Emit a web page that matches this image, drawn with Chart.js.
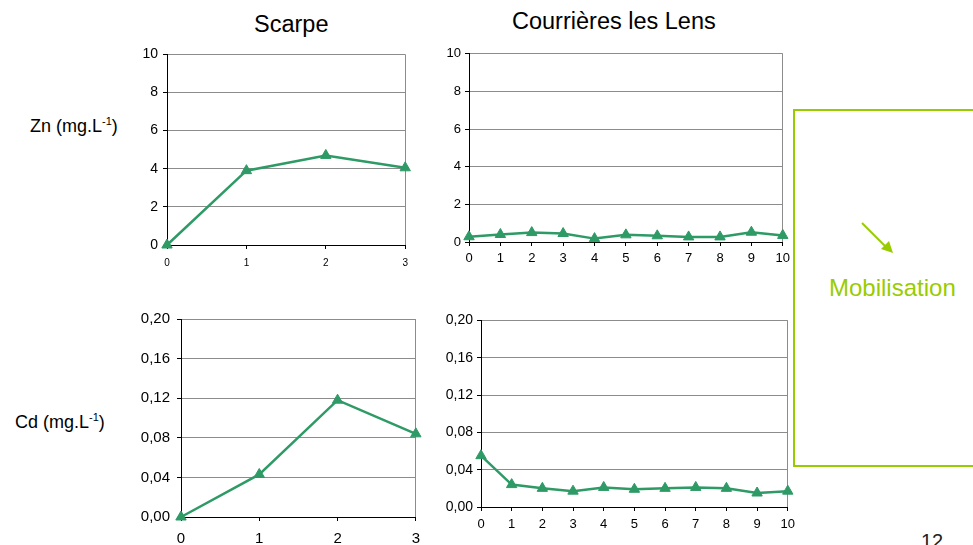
<!DOCTYPE html>
<html>
<head>
<meta charset="utf-8">
<script src="https://cdn.jsdelivr.net/npm/chart.js@4.4.0/dist/chart.umd.min.js"></script>
<style>
  html, body { margin: 0; padding: 0; background: #fff; }
  body { width: 973px; height: 545px; position: relative; overflow: hidden; font-family: Arial, "Liberation Sans", sans-serif; color: #000; }
  canvas { position: absolute; }
  .lbl { position: absolute; white-space: nowrap; }
  .lbl sup { font-size: 11px; vertical-align: 7px; line-height: 0; }
  #box { position: absolute; left: 793px; top: 109px; width: 200px; height: 354px; border: 2px solid #99cc00; }
</style>
</head>
<body>
<div class="lbl" style="left:254px;top:11px;font-size:23.5px;">Scarpe</div>
<div class="lbl" style="left:512px;top:8px;font-size:23.5px;">Courrières les Lens</div>
<div class="lbl" style="left:30px;top:116px;font-size:18px;">Zn (mg.L<sup>-1</sup>)</div>
<div class="lbl" style="left:15px;top:412px;font-size:18px;">Cd (mg.L<sup>-1</sup>)</div>
<div id="box"></div>
<svg style="position:absolute;left:0;top:0" width="973" height="545">
  <line x1="862" y1="223" x2="886" y2="247" stroke="#99cc00" stroke-width="2"/>
  <polygon points="893,253 881,249 889,241" fill="#99cc00"/>
</svg>
<div class="lbl" style="left:829px;top:274px;font-size:24px;color:#99cc00;">Mobilisation</div>
<div class="lbl" style="left:921px;top:530px;font-size:20px;color:#222;">12</div>

<canvas id="znScarpe" width="289" height="234" style="left:127px;top:41px"></canvas>
<canvas id="znLens" width="361" height="228" style="left:434px;top:42px"></canvas>
<canvas id="cdScarpe" width="303" height="246" style="left:126px;top:303px"></canvas>
<canvas id="cdLens" width="365" height="227" style="left:436px;top:308px"></canvas>

<script>
const scarpeDays = ['0', '1', '2', '3']
const lensDays = ['0', '1', '2', '3', '4', '5', '6', '7', '8', '9', '10']

const znScarpe = [0, 3.9, 4.7, 4.05]
const znLens = [0.28, 0.4, 0.5, 0.45, 0.18, 0.38, 0.33, 0.27, 0.27, 0.52, 0.35]
const cdScarpe = [0, 0.043, 0.118, 0.084]
const cdLens = [0.055, 0.024, 0.020, 0.017, 0.021, 0.019, 0.020, 0.021, 0.020, 0.015, 0.017]

const znTicks = [0, 2, 4, 6, 8, 10]
const cdTicks = [0, 0.04, 0.08, 0.12, 0.16, 0.20]

const green = '#2e9a65'
const gridGrey = '#8c8c8c'

function makeChart(id, labels, values, yTicks, opt) {
  const last = labels.length - 1
  return new Chart(document.getElementById(id), {
    type: 'line',
    data: {
      labels: labels,
      datasets: [{
        data: values,
        borderColor: green,
        backgroundColor: green,
        borderWidth: 2.5,
        pointStyle: 'triangle',
        pointRadius: 6,
        pointBorderWidth: 1,
        clip: false
      }]
    },
    options: {
      responsive: false,
      animation: false,
      layout: { padding: { top: opt.padTop, right: opt.padRight, left: 0, bottom: 0 } },
      plugins: { legend: { display: false }, tooltip: { enabled: false } },
      scales: {
        x: {
          type: 'category',
          offset: false,
          afterFit: s => { s.height = opt.xHeight },
          grid: {
            color: c => c.index === last ? gridGrey : 'rgba(0,0,0,0)',
            tickColor: '#000',
            tickLength: 4
          },
          border: { color: '#000', width: 1 },
          ticks: { color: '#000', font: { family: 'Arial', size: opt.xFont }, padding: opt.xPad, maxRotation: 0, autoSkip: false }
        },
        y: {
          min: yTicks[0],
          max: yTicks[yTicks.length - 1],
          afterFit: s => { s.width = opt.yWidth },
          afterBuildTicks: s => { s.ticks = yTicks.map(v => ({ value: v })) },
          grid: { color: gridGrey, tickColor: '#000', tickLength: 4 },
          border: { color: '#000', width: 1 },
          ticks: {
            color: '#000',
            font: { family: 'Arial', size: opt.yFont },
            padding: opt.yPad,
            callback: v => opt.comma ? v.toFixed(2).replace('.', ',') : String(v)
          }
        }
      }
    }
  })
}

makeChart('znScarpe', scarpeDays, znScarpe, znTicks,
  { yWidth: 40, xHeight: 30, padTop: 10, padRight: 10, xFont: 10, yFont: 14, xPad: 8, yPad: 5, comma: false })
makeChart('znLens', lensDays, znLens, znTicks,
  { yWidth: 35, xHeight: 28, padTop: 10, padRight: 12, xFont: 13, yFont: 13, xPad: 5, yPad: 4, comma: false })
makeChart('cdScarpe', scarpeDays, cdScarpe, cdTicks,
  { yWidth: 55, xHeight: 32, padTop: 15, padRight: 10, xFont: 15, yFont: 15, xPad: 9, yPad: 7, comma: true })
makeChart('cdLens', lensDays, cdLens, cdTicks,
  { yWidth: 45, xHeight: 28, padTop: 12, padRight: 12, xFont: 13, yFont: 14, xPad: 6, yPad: 4, comma: true })
</script>
</body>
</html>
